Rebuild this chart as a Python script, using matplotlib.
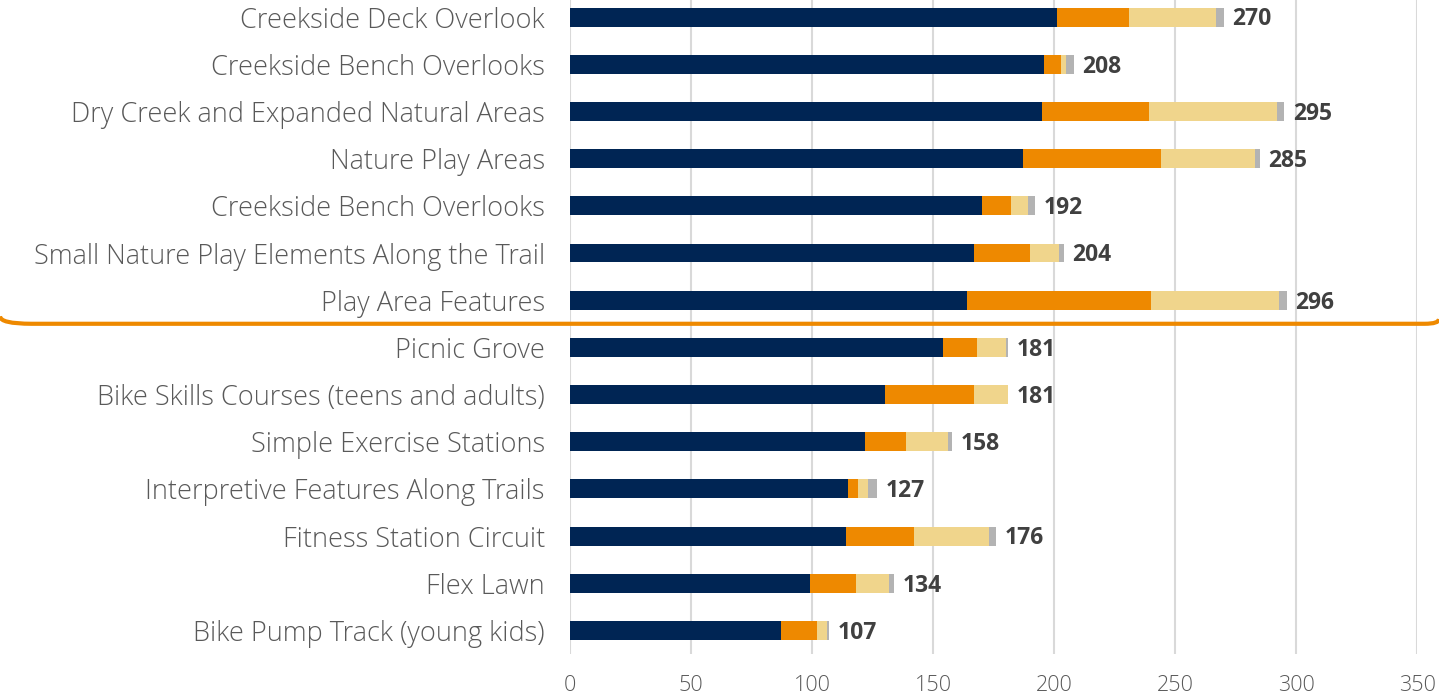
import numpy as np
import matplotlib
matplotlib.use("Agg")
import matplotlib.pyplot as plt
from matplotlib.path import Path
from matplotlib.patches import PathPatch
import matplotlib.transforms as mtransforms

categories = [
    "Creekside Deck Overlook",
    "Creekside Bench Overlooks",
    "Dry Creek and Expanded Natural Areas",
    "Nature Play Areas",
    "Creekside Bench Overlooks",
    "Small Nature Play Elements Along the Trail",
    "Play Area Features",
    "Picnic Grove",
    "Bike Skills Courses (teens and adults)",
    "Simple Exercise Stations",
    "Interpretive Features Along Trails",
    "Fitness Station Circuit",
    "Flex Lawn",
    "Bike Pump Track (young kids)",
]
navy_vals   = [201, 196, 195, 187, 170, 167, 164, 154, 130, 122, 115, 114, 99, 87]
orange_vals = [30, 7, 44, 57, 12, 23, 76, 14, 37, 17, 4, 28, 19, 15]
yellow_vals = [36, 2, 53, 39, 7, 12, 53, 12, 14, 17, 4, 31, 14, 4]
gray_vals   = [3, 3, 3, 2, 3, 2, 3, 1, 0, 2, 4, 3, 2, 1]
totals      = [270, 208, 295, 285, 192, 204, 296, 181, 181, 158, 127, 176, 134, 107]
xticks = [0, 50, 100, 150, 200, 250, 300, 350]

colors = ["#002554", "#EE8900", "#F0D58C", "#B3B3B3"]
label_color = "#595959"

fig = plt.figure(figsize=(14.39, 6.96), dpi=100)
ax = fig.add_axes([0.396, 0.0603, 0.589, 0.949])

y = np.arange(len(categories))
left = np.zeros(len(categories))
for vals, c in zip([navy_vals, orange_vals, yellow_vals, gray_vals], colors):
    ax.barh(y, vals, left=left, height=0.4, color=c, zorder=3)
    left += np.array(vals)

for yi, t in zip(y, totals):
    ax.text(t + 3.5, yi + 0.05, str(t), va="center", ha="left", fontsize=16.5,
            fontweight="bold", color="#404040", family="Open Sans")

ax.set_xlim(0, 350)
ax.set_ylim(len(categories) - 0.5, -0.5)
ax.set_yticks(y)
ax.set_yticklabels(categories, fontsize=19.5, color=label_color,
                   family="Open Sans", fontweight="light")
ax.set_xticks(xticks)
ax.set_xticklabels([str(v) for v in xticks], fontsize=15.5, color=label_color,
                   family="Open Sans", fontweight="light")
ax.tick_params(axis="both", length=0)
ax.tick_params(axis="y", pad=18)
ax.tick_params(axis="x", pad=15)
ax.xaxis.grid(True, color="#d9d9d9", linewidth=1.5, zorder=0)
for s in ax.spines.values():
    s.set_visible(False)

# orange separator with rounded ends
trans = mtransforms.blended_transform_factory(fig.transFigure, ax.transData)
ys = 6.5
verts = [(0.0, ys - 0.16), (0.0, ys), (0.022, ys),
         (0.99, ys), (1.0, ys), (1.0, ys - 0.1)]
codes = [Path.MOVETO, Path.CURVE3, Path.CURVE3,
         Path.LINETO, Path.CURVE3, Path.CURVE3]
sep = PathPatch(Path(verts, codes), transform=trans, facecolor="none",
                edgecolor="#EE8900", linewidth=3, clip_on=False, zorder=5)
ax.add_patch(sep)

fig.savefig("out.png", dpi=100)
